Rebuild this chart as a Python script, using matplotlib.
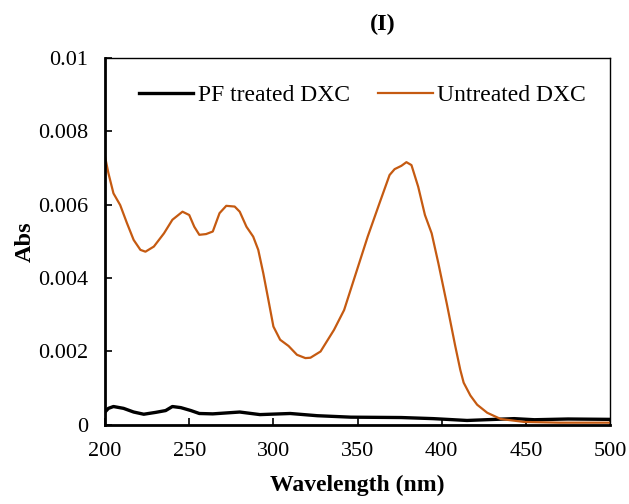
import matplotlib
matplotlib.use("Agg")
import matplotlib.pyplot as plt

plt.rcParams['font.family'] = ['Liberation Serif', 'DejaVu Serif']

# Untreated DXC absorbance
untreated_wl = [200, 202, 205, 209, 213, 217, 221, 224, 229, 235, 240, 246, 250, 253, 256,
                260, 264, 268, 272, 277, 280, 284, 288, 291, 294, 297, 300, 304, 309, 314,
                319, 322, 328, 336, 342, 349, 356, 363, 369, 372, 376, 379, 382, 386, 390,
                394, 398, 403, 408, 411, 413, 417, 421, 427, 435, 449, 470, 500]
untreated_abs = [0.00731, 0.00686, 0.00631, 0.00599, 0.00550, 0.00504, 0.00477, 0.00472, 0.00486,
                 0.00522, 0.00559, 0.00581, 0.00572, 0.00540, 0.00518, 0.00520, 0.00527, 0.00577,
                 0.00597, 0.00595, 0.00581, 0.00540, 0.00513, 0.00477, 0.00413, 0.00341, 0.00268,
                 0.00232, 0.00215, 0.00191, 0.00182, 0.00183, 0.00200, 0.00259, 0.00313, 0.00413,
                 0.00513, 0.00604, 0.00681, 0.00697, 0.00706, 0.00716, 0.00708, 0.00649, 0.00572,
                 0.00522, 0.00440, 0.00330, 0.00215, 0.00150, 0.00115, 0.00080, 0.00055, 0.00033,
                 0.00016, 0.00008, 0.00006, 0.00006]

# PF treated DXC absorbance
treated_wl = [200, 202, 205, 211, 217, 223, 230, 236, 240, 245, 251, 256, 264, 280, 292,
              310, 326, 346, 376, 395, 415, 443, 455, 475, 500]
treated_abs = [0.00035, 0.00045, 0.00050, 0.00045, 0.00035, 0.00029, 0.00034, 0.00039, 0.00050,
               0.00047, 0.00039, 0.00031, 0.00030, 0.00035, 0.00028, 0.00031, 0.00025, 0.00021,
               0.00020, 0.00017, 0.00012, 0.00017, 0.00014, 0.00016, 0.00015]

fig = plt.figure(figsize=(6.29, 5.04), dpi=100)
ax = fig.add_axes([0.167, 0.157, 0.803, 0.728])

ax.plot(treated_wl, treated_abs, color="black", linewidth=2.4, label="PF treated DXC",
        solid_joinstyle="round")
ax.plot(untreated_wl, untreated_abs, color="#C55A11", linewidth=1.6, label="Untreated DXC",
        solid_joinstyle="round")

ax.set_xlim(200, 500)
ax.set_ylim(0, 0.01)
ax.set_xticks([200, 250, 300, 350, 400, 450, 500])
ax.set_yticks([0, 0.002, 0.004, 0.006, 0.008, 0.01])
ax.set_yticklabels(["0", "0.002", "0.004", "0.006", "0.008", "0.01"])
ax.tick_params(direction="in", labelsize=16, length=5, width=1.2, pad=12)

ax.spines["left"].set_linewidth(2)
ax.spines["bottom"].set_linewidth(2)
ax.spines["top"].set_linewidth(1)
ax.spines["right"].set_linewidth(1)

ax.set_xlabel("Wavelength (nm)", fontsize=17, fontweight="bold", labelpad=10)
ax.set_ylabel("Abs", fontsize=17.5, fontweight="bold", labelpad=1.5)

ax.legend(loc="upper center", ncol=2, frameon=False, fontsize=17,
          handlelength=2.3, columnspacing=1.2, handletextpad=0.2,
          bbox_to_anchor=(0.51, 0.985))

fig.text(0.609, 0.951, "(I)", fontsize=17.5, fontweight="bold", ha="center", va="center")

fig.savefig("out.png", dpi=100)
